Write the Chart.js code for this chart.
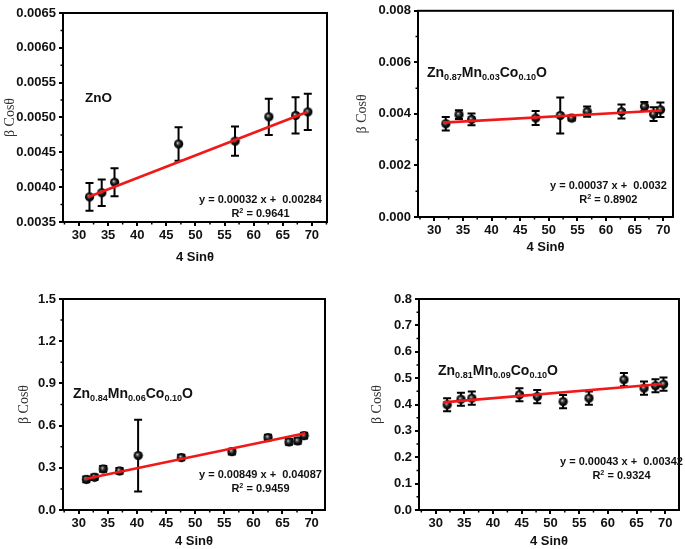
<!DOCTYPE html>
<html>
<head>
<meta charset="utf-8">
<script src="https://cdn.jsdelivr.net/npm/chart.js@4.4.0/dist/chart.umd.min.js"></script>
<style>
  html, body { margin: 0; padding: 0; background: #fff; overflow: hidden; }
  #page { position: relative; width: 685px; height: 549px; }
  .panel { position: absolute; }
  .note { position: absolute; font-family: Arial, 'Liberation Sans', sans-serif; color: #111; white-space: pre; }
  .label { font-size: 14px; font-weight: bold; line-height: 16px; }
  .label sub { font-size: 0.65em; vertical-align: -0.3em; line-height: 0; }
  .fit { font-size: 11px; font-weight: bold; line-height: 14px; text-align: center; }
  .fit sup { font-size: 0.65em; vertical-align: 0.55em; line-height: 0; }
</style>
</head>
<body>
<div id="page">
  <canvas id="c1" class="panel" width="340" height="270" style="left:0;top:0"></canvas>
  <canvas id="c2" class="panel" width="345" height="270" style="left:340px;top:0"></canvas>
  <canvas id="c3" class="panel" width="340" height="269" style="left:0;top:280px"></canvas>
  <canvas id="c4" class="panel" width="345" height="269" style="left:340px;top:280px"></canvas>

  <div class="note label" style="left:85px;top:90px;font-size:13.5px">ZnO</div>
  <div class="note label" style="left:427px;top:64px">Zn<sub>0.87</sub>Mn<sub>0.03</sub>Co<sub>0.10</sub>O</div>
  <div class="note label" style="left:73px;top:385px">Zn<sub>0.84</sub>Mn<sub>0.06</sub>Co<sub>0.10</sub>O</div>
  <div class="note label" style="left:438px;top:362px">Zn<sub>0.81</sub>Mn<sub>0.09</sub>Co<sub>0.10</sub>O</div>

  <div class="note fit" style="left:199px;top:192px">y = 0.00032 x +  0.00284<br>R<sup>2</sup> = 0.9641</div>
  <div class="note fit" style="left:550px;top:178px">y = 0.00037 x +  0.0032<br>R<sup>2</sup> = 0.8902</div>
  <div class="note fit" style="left:199px;top:467px">y = 0.00849 x +  0.04087<br>R<sup>2</sup> = 0.9459</div>
  <div class="note fit" style="left:560px;top:454px">y = 0.00043 x +  0.00342<br>R<sup>2</sup> = 0.9324</div>
</div>
<script>
// shared x ticks (4 Sinθ)
const xTicks = [30, 35, 40, 45, 50, 55, 60, 65, 70];

// ZnO
const znoX = [31.8, 33.9, 36.1, 47.1, 56.8, 62.6, 67.2, 69.3];
const znoY = [0.00386, 0.00392, 0.00407, 0.00462, 0.00466, 0.00501, 0.00503, 0.00508];
const znoErr = [0.0002, 0.00019, 0.0002, 0.00024, 0.00021, 0.00026, 0.00026, 0.00026];
const znoFitX = [31.6, 69.2];
const znoFitY = [0.00386, 0.00508];
const znoYTicks = [0.0035, 0.0040, 0.0045, 0.0050, 0.0055, 0.0060, 0.0065];

// Zn0.87Mn0.03Co0.10O
const mn3X = [32.0, 34.3, 36.5, 47.7, 52.0, 54.0, 56.7, 62.7, 66.7, 68.3, 69.5];
const mn3Y = [0.00362, 0.00397, 0.00379, 0.00384, 0.00394, 0.00384, 0.00409, 0.00409, 0.00429, 0.00399, 0.00416];
const mn3Err = [0.00026, 0.00017, 0.00023, 0.00027, 0.0007, 0.0001, 0.0002, 0.00027, 0.00017, 0.00027, 0.00028];
const mn3FitX = [31.5, 69.7];
const mn3FitY = [0.00366, 0.00413];
const mn3YTicks = [0, 0.002, 0.004, 0.006, 0.008];

// Zn0.84Mn0.06Co0.10O
const mn6X = [31.3, 32.7, 34.2, 37.0, 40.2, 47.6, 56.3, 62.5, 66.1, 67.6, 68.7];
const mn6Y = [0.218, 0.233, 0.292, 0.278, 0.387, 0.373, 0.415, 0.515, 0.484, 0.491, 0.529];
const mn6Err = [0.02, 0.02, 0.02, 0.02, 0.255, 0.02, 0.02, 0.02, 0.02, 0.02, 0.02];
const mn6FitX = [31.1, 68.9];
const mn6FitY = [0.221, 0.546];
const mn6YTicks = [0, 0.3, 0.6, 0.9, 1.2, 1.5];

// Zn0.81Mn0.09Co0.10O
const mn9X = [32.0, 34.4, 36.3, 44.6, 47.7, 52.2, 56.7, 62.8, 66.3, 68.3, 69.7];
const mn9Y = [0.399, 0.420, 0.424, 0.437, 0.430, 0.411, 0.424, 0.494, 0.462, 0.471, 0.477];
const mn9Err = [0.025, 0.025, 0.025, 0.025, 0.025, 0.025, 0.025, 0.025, 0.025, 0.025, 0.025];
const mn9FitX = [31.3, 69.5];
const mn9FitY = [0.408, 0.478];
const mn9YTicks = [0, 0.1, 0.2, 0.3, 0.4, 0.5, 0.6, 0.7, 0.8];

const SANS = "Arial, 'Liberation Sans', sans-serif";
const SERIF = "'Liberation Serif', 'Times New Roman', serif";

// shaded black ball marker
function makeBall(r) {
    const c = document.createElement('canvas');
    c.width = c.height = r * 2 + 2;
    const g = c.getContext('2d');
    const m = r + 1;
    const grad = g.createRadialGradient(m - r * 0.25, m - r * 0.3, 0, m, m, r);
    grad.addColorStop(0, '#eeeeee');
    grad.addColorStop(0.3, '#555555');
    grad.addColorStop(0.6, '#111111');
    grad.addColorStop(1, '#000000');
    g.fillStyle = grad;
    g.beginPath();
    g.arc(m, m, r, 0, Math.PI * 2);
    g.fill();
    return c;
}
const ball = makeBall(4.6);

const errorBars = {
    id: 'errorBars',
    beforeDatasetsDraw(chart) {
        const ds = chart.data.datasets.find(d => d.errors);
        if (!ds) return;
        const xs = chart.scales.x, ys = chart.scales.y, ctx = chart.ctx;
        ctx.save();
        ctx.strokeStyle = '#000';
        ctx.lineWidth = 2;
        ds.data.forEach((p, i) => {
            const e = ds.errors[i];
            const px = xs.getPixelForValue(p.x);
            const top = ys.getPixelForValue(p.y + e);
            const bot = ys.getPixelForValue(p.y - e);
            ctx.beginPath();
            ctx.moveTo(px, top); ctx.lineTo(px, bot);
            ctx.moveTo(px - 4, top); ctx.lineTo(px + 4, top);
            ctx.moveTo(px - 4, bot); ctx.lineTo(px + 4, bot);
            ctx.stroke();
        });
        ctx.restore();
    }
};

// box frame + minor ticks
const frame = {
    id: 'frame',
    afterDraw(chart) {
        const { ctx, chartArea: a, scales } = chart;
        ctx.save();
        ctx.strokeStyle = '#000';
        ctx.lineWidth = 2;
        ctx.strokeRect(a.left, a.top, a.right - a.left, a.bottom - a.top);

        const minors = (s) => {
            const v = s.ticks.map(t => t.value);
            const step = v[1] - v[0];
            const out = [];
            for (let m = v[0] - step / 2; m <= s.max; m += step) {
                if (m >= s.min) out.push(m);
            }
            return out;
        };
        ctx.lineWidth = 1.5;
        ctx.beginPath();
        minors(scales.x).forEach(m => {
            const px = scales.x.getPixelForValue(m);
            ctx.moveTo(px, a.bottom); ctx.lineTo(px, a.bottom + 2.5);
        });
        minors(scales.y).forEach(m => {
            const py = scales.y.getPixelForValue(m);
            ctx.moveTo(a.left, py); ctx.lineTo(a.left - 2.5, py);
        });
        ctx.stroke();
        ctx.restore();
    }
};

function makePanel(id, cfg) {
    const tickFont = { family: SANS, size: 13, weight: 'bold' };
    return new Chart(document.getElementById(id), {
        type: 'scatter',
        data: {
            datasets: [
                {
                    type: 'line',
                    data: cfg.fitX.map((x, i) => ({ x, y: cfg.fitY[i] })),
                    borderColor: '#f01818',
                    borderWidth: 2.6,
                    pointRadius: 0,
                    fill: false
                },
                {
                    data: cfg.x.map((x, i) => ({ x, y: cfg.y[i] })),
                    errors: cfg.err,
                    pointStyle: ball,
                    pointRadius: 5,
                    backgroundColor: '#000',
                    borderColor: '#000'
                }
            ]
        },
        options: {
            responsive: false,
            animation: false,
            layout: { padding: { top: cfg.padTop, right: cfg.padRight, left: 0, bottom: 0 } },
            plugins: { legend: { display: false }, tooltip: { enabled: false } },
            scales: {
                x: {
                    type: 'linear',
                    min: cfg.xMin,
                    max: cfg.xMax,
                    afterBuildTicks: s => { s.ticks = xTicks.map(v => ({ value: v })); },
                    afterFit: s => { s.height = cfg.xH; },
                    grid: { drawOnChartArea: false, drawTicks: true, tickLength: 4, lineWidth: 2, color: '#000' },
                    border: { display: true, color: '#000', width: 2 },
                    ticks: { color: '#111', font: tickFont, padding: 2, maxRotation: 0, autoSkip: false },
                    title: {
                        display: true, text: '4 Sinθ', color: '#111',
                        font: { family: SANS, size: 13, weight: 'bold' },
                        padding: { top: 0, bottom: cfg.xTitlePad }
                    }
                },
                y: {
                    type: 'linear',
                    min: cfg.yTicks[0],
                    max: cfg.yTicks[cfg.yTicks.length - 1],
                    afterBuildTicks: s => { s.ticks = cfg.yTicks.map(v => ({ value: v })); },
                    afterFit: s => { s.width = cfg.yW; },
                    grid: { drawOnChartArea: false, drawTicks: true, tickLength: 4, lineWidth: 2, color: '#000' },
                    border: { display: true, color: '#000', width: 2 },
                    ticks: { color: '#111', font: tickFont, padding: 3, autoSkip: false, callback: v => v.toFixed(cfg.dec) },
                    title: {
                        display: true, text: 'β Cosθ', color: '#333',
                        font: { family: SERIF, size: 14, weight: 'normal' },
                        padding: { top: cfg.yTitlePad, bottom: 0 }
                    }
                }
            }
        },
        plugins: [errorBars, frame]
    });
}

makePanel('c1', {
    x: znoX, y: znoY, err: znoErr, fitX: znoFitX, fitY: znoFitY, yTicks: znoYTicks, dec: 4,
    xMin: 27.25, xMax: 72.6, padTop: 13, padRight: 13, yW: 63, xH: 48, xTitlePad: 5, yTitlePad: 2
});
makePanel('c2', {
    x: mn3X, y: mn3Y, err: mn3Err, fitX: mn3FitX, fitY: mn3FitY, yTicks: mn3YTicks, dec: 3,
    xMin: 27.15, xMax: 71.7, padTop: 6, padRight: 12, yW: 78, xH: 53, xTitlePad: 15, yTitlePad: 14
});
makePanel('c3', {
    x: mn6X, y: mn6Y, err: mn6Err, fitX: mn6FitX, fitY: mn6FitY, yTicks: mn6YTicks, dec: 1,
    xMin: 27.3, xMax: 72.3, padTop: 19, padRight: 15, yW: 63, xH: 39, xTitlePad: 0, yTitlePad: 16
});
makePanel('c4', {
    x: mn9X, y: mn9Y, err: mn9Err, fitX: mn9FitX, fitY: mn9FitY, yTicks: mn9YTicks, dec: 1,
    xMin: 27.1, xMax: 72.4, padTop: 19, padRight: 3, yW: 79, xH: 39, xTitlePad: 0, yTitlePad: 29
});
</script>
</body>
</html>
